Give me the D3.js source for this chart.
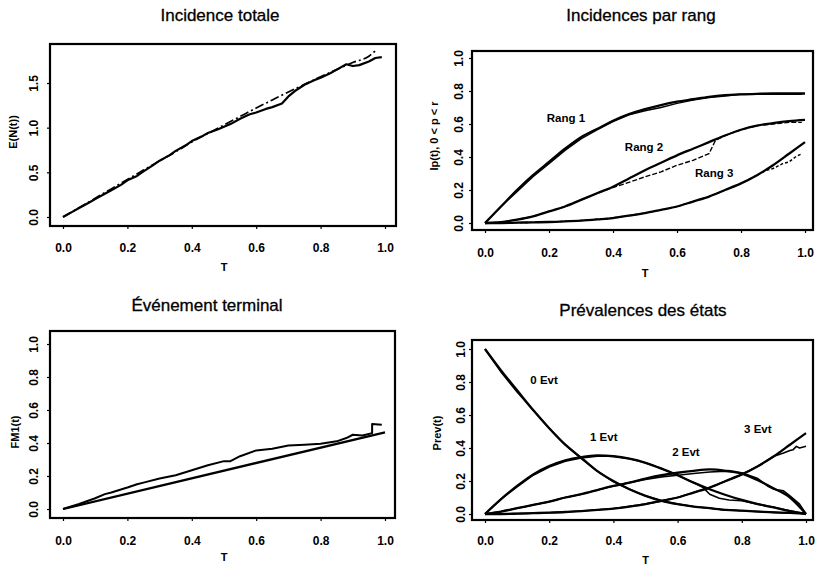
<!DOCTYPE html>
<html><head><meta charset="utf-8">
<script src="https://cdn.jsdelivr.net/npm/d3@7"></script>
<style>
body{margin:0;background:#fff;}
svg{display:block;font-family:"Liberation Sans",Arial,Helvetica,sans-serif;}
</style></head>
<body><svg id="c" width="815" height="567"></svg>
<script>
// ---------- DATA ----------
const xTicks = [0.0, 0.2, 0.4, 0.6, 0.8, 1.0];
const yTicksTotal = [0.0, 0.5, 1.0, 1.5];
const yTicksUnit = [0.0, 0.2, 0.4, 0.6, 0.8, 1.0];

const tGrid = [0,0.05,0.1,0.15,0.2,0.25,0.3,0.35,0.4,0.45,0.5,0.55,0.6,0.65,0.7,0.75,0.8,0.85,0.9,0.95,1.0];

// Panel 1 : Incidence totale
const totalTheoT = [0,0.05,0.1,0.15,0.2,0.25,0.3,0.35,0.4,0.45,0.5,0.55,0.6,0.65,0.7,0.75,0.8,0.85,0.9,0.95,0.97];
const totalTheo  = [0,0.105,0.21,0.315,0.42,0.525,0.63,0.73,0.84,0.935,1.03,1.125,1.22,1.31,1.40,1.485,1.57,1.65,1.73,1.80,1.86];
const totalEmpT = [0,0.03,0.05,0.08,0.1,0.13,0.15,0.18,0.2,0.23,0.25,0.28,0.3,0.33,0.35,0.38,0.4,0.43,0.45,0.48,0.5,0.52,0.55,0.58,0.6,0.63,0.65,0.68,0.7,0.72,0.75,0.78,0.8,0.83,0.85,0.88,0.9,0.92,0.95,0.97,0.99];
const totalEmp  = [0,0.06,0.10,0.16,0.20,0.26,0.30,0.36,0.41,0.46,0.51,0.58,0.63,0.69,0.74,0.80,0.85,0.90,0.94,0.98,1.01,1.04,1.10,1.15,1.17,1.21,1.23,1.27,1.35,1.41,1.48,1.53,1.56,1.61,1.65,1.71,1.69,1.70,1.74,1.78,1.79];

// Panel 2 : Incidences par rang
const rang1Theo = [0,0.10,0.20,0.29,0.37,0.45,0.52,0.57,0.62,0.66,0.69,0.715,0.735,0.75,0.765,0.775,0.78,0.783,0.785,0.785,0.785];
const rang2Theo = [0,0.005,0.02,0.04,0.07,0.10,0.14,0.18,0.22,0.27,0.32,0.365,0.41,0.45,0.49,0.53,0.565,0.59,0.605,0.617,0.625];
const rang3Theo = [0,0,0.002,0.004,0.006,0.01,0.015,0.022,0.03,0.045,0.06,0.08,0.10,0.13,0.16,0.20,0.24,0.29,0.35,0.42,0.49];
const rang1EmpT = [0,0.05,0.1,0.15,0.2,0.25,0.3,0.35,0.4,0.45,0.5,0.55,0.6,0.65,0.7,0.75,0.8,0.85,0.9,0.95,0.99];
const rang1Emp  = [0,0.10,0.19,0.28,0.36,0.44,0.51,0.565,0.615,0.655,0.68,0.70,0.725,0.745,0.76,0.77,0.78,0.78,0.78,0.78,0.78];
const rang2EmpT = [0,0.05,0.1,0.15,0.2,0.25,0.3,0.35,0.4,0.44,0.47,0.5,0.55,0.6,0.65,0.7,0.72,0.75,0.8,0.85,0.9,0.95,0.99];
const rang2Emp  = [0,0.005,0.02,0.04,0.07,0.10,0.14,0.18,0.215,0.24,0.26,0.28,0.31,0.35,0.38,0.42,0.50,0.53,0.565,0.59,0.60,0.61,0.61];
const rang3EmpT = [0,0.1,0.2,0.3,0.4,0.5,0.6,0.7,0.75,0.8,0.85,0.88,0.9,0.93,0.95,0.97,0.99];
const rang3Emp  = [0,0.002,0.006,0.015,0.03,0.06,0.10,0.16,0.20,0.24,0.29,0.32,0.33,0.36,0.37,0.40,0.42];
const rangLabels = ["Rang 1","Rang 2","Rang 3"];
const rangLabelT = [0.253,0.497,0.716];
const rangLabelV = [0.636,0.46,0.303];

// Panel 3 : Evenement terminal
const termTheoT = [0,1.0];
const termTheo  = [0,0.465];
const termEmpT = [0,0.05,0.1,0.13,0.15,0.2,0.23,0.25,0.3,0.35,0.4,0.45,0.5,0.52,0.55,0.6,0.65,0.7,0.75,0.8,0.85,0.88,0.9,0.93,0.96,0.96,0.99];
const termEmp  = [0,0.03,0.065,0.09,0.10,0.13,0.15,0.16,0.185,0.205,0.235,0.265,0.29,0.29,0.32,0.355,0.365,0.385,0.39,0.395,0.41,0.43,0.45,0.445,0.46,0.515,0.51];

// Panel 4 : Prevalences des etats
const prev0Theo = [1.0,0.87,0.75,0.63,0.52,0.42,0.34,0.26,0.20,0.15,0.11,0.08,0.06,0.045,0.035,0.025,0.02,0.015,0.01,0.007,0.005];
const prev1Theo = [0,0.09,0.17,0.24,0.29,0.325,0.345,0.355,0.35,0.335,0.31,0.275,0.235,0.19,0.15,0.115,0.085,0.06,0.04,0.018,0.0];
const prev2Theo = [0,0.015,0.035,0.055,0.075,0.10,0.12,0.145,0.17,0.19,0.215,0.235,0.25,0.262,0.27,0.262,0.245,0.205,0.155,0.10,0.0];
const prev3Theo = [0,0,0.002,0.005,0.008,0.012,0.018,0.025,0.033,0.045,0.06,0.08,0.10,0.13,0.16,0.20,0.24,0.29,0.35,0.42,0.49];
const prev0Emp  = [1.0,0.86,0.74,0.63,0.52,0.42,0.335,0.26,0.195,0.15,0.11,0.08,0.06,0.045,0.035,0.025,0.02,0.015,0.01,0.005,0.0];
const prev1EmpT = [0,0.05,0.1,0.15,0.2,0.25,0.3,0.35,0.4,0.45,0.5,0.55,0.6,0.65,0.68,0.7,0.73,0.76,0.8,0.85,0.9,0.95,1.0];
const prev1Emp  = [0,0.09,0.165,0.235,0.285,0.32,0.34,0.35,0.35,0.335,0.31,0.275,0.235,0.19,0.16,0.12,0.095,0.085,0.08,0.06,0.04,0.02,0.0];
const prev2EmpT = [0,0.05,0.1,0.15,0.2,0.25,0.3,0.35,0.4,0.45,0.5,0.55,0.6,0.65,0.7,0.75,0.8,0.85,0.88,0.9,0.93,0.95,0.98,1.0];
const prev2Emp  = [0,0.015,0.035,0.055,0.075,0.10,0.12,0.145,0.17,0.19,0.21,0.225,0.235,0.245,0.255,0.26,0.25,0.215,0.17,0.15,0.14,0.11,0.06,0.0];
const prev3EmpT = [0,0.1,0.2,0.3,0.4,0.5,0.6,0.7,0.8,0.85,0.9,0.93,0.95,0.96,0.97,0.98,1.0];
const prev3Emp  = [0,0.002,0.008,0.018,0.033,0.06,0.10,0.16,0.24,0.29,0.35,0.37,0.385,0.39,0.41,0.40,0.41];
const evtLabels = ["0 Evt","1 Evt","2 Evt","3 Evt"];
const evtLabelT = [0.184,0.37,0.626,0.85];
const evtLabelV = [0.81,0.467,0.376,0.515];

// ---------- DRAW ----------
const svg = d3.select("#c");
svg.append("rect").attr("width",815).attr("height",567).attr("fill","#fff");

function zip(ts, vs){ return ts.map((t,i)=>[t, vs[i]]); }

const panels = [
  {title:"Incidence totale", tx:220, ty:21, box:[50,44,396,226], xr:[63,385], ydom:[0,1.5], yr:[217,83],
   yTicks:yTicksTotal, ylab:"E(N(t))", ylx:13, yly:132, yTickOff:16, xLabY:267, xTickY:247,
   series:[
     {d:zip(totalTheoT,totalTheo), w:1.7, dash:"9,3,2,3", smooth:true},
     {d:zip(totalEmpT,totalEmp), w:2.2}
   ], labels:[]},
  {title:"Incidences par rang", tx:641, ty:21, box:[472,51,813,230], xr:[485,805], ydom:[0,1], yr:[223,58],
   yTicks:yTicksUnit, ylab:"Ip(t), 0 < p < r", ylx:434, yly:136, yTickOff:13, xLabY:273, xTickY:252,
   series:[
     {d:zip(tGrid,rang1Theo), w:2.3, smooth:true},
     {d:zip(tGrid,rang2Theo), w:2.3, smooth:true},
     {d:zip(tGrid,rang3Theo), w:2.3, smooth:true},
     {d:zip(rang1EmpT,rang1Emp), w:1.4},
     {d:zip(rang2EmpT,rang2Emp), w:1.4, dash:"5,2"},
     {d:zip(rang3EmpT,rang3Emp), w:1.4, dash:"3,2"}
   ], labels: rangLabels.map((s,i)=>({s, t:rangLabelT[i], v:rangLabelV[i]}))},
  {title:"Événement terminal", tx:207, ty:311, box:[50,331,395,518], xr:[63,385], ydom:[0,1], yr:[509,344],
   yTicks:yTicksUnit, ylab:"FM1(t)", ylx:15, yly:432, yTickOff:16, xLabY:557, xTickY:540,
   series:[
     {d:zip(termTheoT,termTheo), w:2.3},
     {d:zip(termEmpT,termEmp), w:2.0}
   ], labels:[]},
  {title:"Prévalences des états", tx:643, ty:316, box:[472,340,813,520], xr:[485,806], ydom:[0,1], yr:[514,349],
   yTicks:yTicksUnit, ylab:"Prev(t)", ylx:437, yly:433, yTickOff:11, xLabY:560, xTickY:540,
   series:[
     {d:zip(tGrid,prev0Theo), w:2.3, smooth:true},
     {d:zip(tGrid,prev1Theo), w:2.3, smooth:true},
     {d:zip(tGrid,prev2Theo), w:2.3, smooth:true},
     {d:zip(tGrid,prev3Theo), w:2.3, smooth:true},
     {d:zip(tGrid,prev0Emp), w:1.6},
     {d:zip(prev1EmpT,prev1Emp), w:1.6},
     {d:zip(prev2EmpT,prev2Emp), w:1.6},
     {d:zip(prev3EmpT,prev3Emp), w:1.6}
   ], labels: evtLabels.map((s,i)=>({s, t:evtLabelT[i], v:evtLabelV[i]}))}
];

panels.forEach(p=>{
  const [x0,y0,x1,y1] = p.box;
  const x = d3.scaleLinear().domain([0,1]).range(p.xr);
  const y = d3.scaleLinear().domain(p.ydom).range(p.yr);

  // title
  svg.append("text").attr("x",p.tx).attr("y",p.ty).attr("text-anchor","middle")
    .attr("font-size",17).attr("fill","#000").attr("stroke","#000").attr("stroke-width",0.3).text(p.title);

  // series
  p.series.forEach(s=>{
    const line = d3.line().x(d=>x(d[0])).y(d=>y(d[1]))
      .curve(s.smooth ? d3.curveMonotoneX : d3.curveLinear);
    svg.append("path").attr("d",line(s.d)).attr("fill","none").attr("stroke","#000")
      .attr("stroke-width",s.w).attr("stroke-linejoin","round")
      .attr("stroke-dasharray",s.dash||null);
  });

  // labels
  p.labels.forEach(l=>{
    svg.append("text").attr("x",x(l.t)).attr("y",y(l.v)).attr("dy","0.35em")
      .attr("text-anchor","middle").attr("font-size",11.5).attr("font-weight","bold")
      .attr("fill","#000").text(l.s);
  });

  // box
  svg.append("rect").attr("x",x0).attr("y",y0).attr("width",x1-x0).attr("height",y1-y0)
    .attr("fill","none").attr("stroke","#000").attr("stroke-width",2.2);

  // x axis
  const gx = svg.append("g").attr("transform",`translate(0,${y1})`)
    .call(d3.axisBottom(x).tickValues(xTicks).tickFormat(d3.format(".1f")).tickSize(3).tickPadding(p.xTickY-y1-3-4));
  gx.select(".domain").remove();
  gx.selectAll("line").attr("stroke","#000").attr("stroke-width",1.2);
  gx.selectAll("text").attr("font-size",12).attr("font-weight","bold").attr("fill","#000")
    .attr("font-family","Liberation Sans, Arial, sans-serif");

  // y axis
  const gy = svg.append("g").attr("transform",`translate(${x0},0)`)
    .call(d3.axisLeft(y).tickValues(p.yTicks).tickFormat(d3.format(".1f")).tickSize(3));
  gy.select(".domain").remove();
  gy.selectAll("line").attr("stroke","#000").attr("stroke-width",1.2);
  gy.selectAll("text").attr("font-size",12).attr("font-weight","bold").attr("fill","#000")
    .attr("font-family","Liberation Sans, Arial, sans-serif")
    .attr("transform","rotate(-90)").attr("x",0).attr("y",-p.yTickOff).attr("dy","0.35em")
    .attr("text-anchor","middle");

  // axis labels
  svg.append("text").attr("x",(p.xr[0]+p.xr[1])/2).attr("y",p.xLabY).attr("dy","0.35em")
    .attr("text-anchor","middle").attr("font-size",11).attr("font-weight","bold").attr("fill","#000").text("T");
  svg.append("text").attr("transform",`translate(${p.ylx},${p.yly}) rotate(-90)`).attr("dy","0.35em")
    .attr("text-anchor","middle").attr("font-size",11).attr("font-weight","bold").attr("fill","#000").text(p.ylab);
});
</script></body></html>
